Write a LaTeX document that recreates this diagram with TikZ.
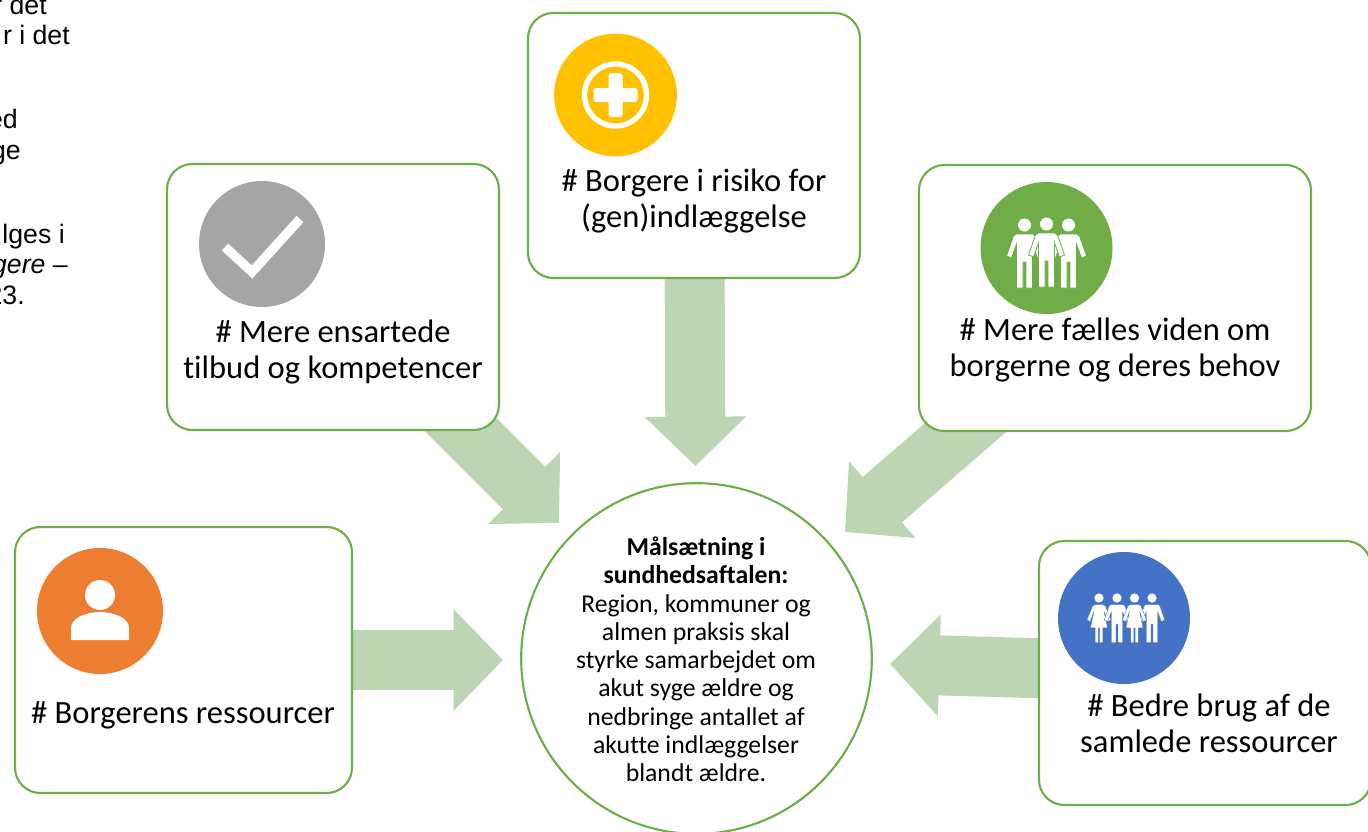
\documentclass[tikz,border=0pt]{standalone}
\usepackage{fontspec}
\setmainfont[Ligatures=NoCommon]{Carlito}
\newfontfamily\arialfont{Liberation Sans}
\usetikzlibrary{arrows.meta,backgrounds}
\definecolor{boxgreen}{HTML}{70AD47}
\definecolor{arrowgreen}{HTML}{BCD5B3}
\definecolor{iconorange}{HTML}{ED7D31}
\definecolor{icongray}{HTML}{A5A5A5}
\definecolor{iconyellow}{HTML}{FFC000}
\definecolor{iconblue}{HTML}{4472C4}
\tikzset{
  themebox/.style={draw=boxgreen, line width=1.6pt, fill=white, rounded corners=19pt},
  themetext/.style={font=\fontsize{24.4}{27}\selectfont, align=center, inner sep=0pt},
  icondisc/.style={circle, minimum size=#1, inner sep=0pt},
  bigarrow/.style={draw=arrowgreen, line width=45pt, -{Triangle[length=37pt, width=74pt]}},
  cuttext/.style={anchor=base east, inner sep=0pt, font=\arialfont\fontsize{20}{24}\selectfont, text=black},
  manfig/.pic={
    \fill (0,0) circle (6.5);
    \filldraw (-8,9) -- (8,9) -- (11,11) -- (18,31) -- (13,33) -- (8,19) -- (8,63) -- (1.5,63) -- (1.5,37)
      -- (-1.5,37) -- (-1.5,63) -- (-8,63) -- (-8,19) -- (-13,33) -- (-18,31) -- (-11,11) -- cycle;
  },
  womanfig/.pic={
    \fill (0,0) circle (6.5);
    \filldraw (-5,9) -- (5,9) -- (9,11) -- (17,31) -- (12.5,33) -- (7,19) -- (12,42) -- (5.5,42) -- (5.5,63) -- (1,63)
      -- (1,42) -- (-1,42) -- (-1,63) -- (-5.5,63) -- (-5.5,42) -- (-12,42) -- (-7,19) -- (-12.5,33) -- (-17,31) -- (-9,11) -- cycle;
  },
  personicon/.pic={
    \fill[white] (0,-16) circle (15);
    \fill[white] (-29,29) -- (-29,17) .. controls (-29,6) and (-12,1) .. (0,1) .. controls (12,1) and (29,6) .. (29,17) -- (29,29) -- cycle;
  },
  checkicon/.pic={
    \draw[white, line width=7pt] (-37,3) -- (-10,28) -- (38,-25);
  },
  crossicon/.pic={
    \draw[white, line width=4pt] (0,0) circle (31);
    \fill[white, rounded corners=2pt] (-7,-22) rectangle (7,22);
    \fill[white, rounded corners=2pt] (-22,-7) rectangle (22,7);
  },
}

\begin{document}
\begin{tikzpicture}[x=0.75pt, y=-0.75pt]
\useasboundingbox (0,0) rectangle (1368,832);
\clip (0,0) rectangle (1368,832);

% cut off text at the left edge
\node[cuttext] (cuta) at (47,14) {r det};
\node[cuttext] (cutb) at (70,44) {r i det};
\node[cuttext] (cutc) at (18,128) {ed};
\node[cuttext] (cutd) at (21,159) {ge};
\node[cuttext] (cute) at (65,243) {lges i};
\node[cuttext] (cutf) at (68,273) {\itshape gere \upshape –};
\node[cuttext] (cutg) at (25,304) {23.};

% boxes
\node[themebox, minimum width=252.75pt, minimum height=199.5pt] (borger) at (183.5,660) {};
\node[themebox, minimum width=249pt, minimum height=199.5pt] (ensartet) at (333,297) {};
\node[themebox, minimum width=249pt, minimum height=198.75pt] (risiko) at (694,145.5) {};
\node[themebox, minimum width=294pt, minimum height=199.5pt] (viden) at (1115,298) {};
\node[themebox, minimum width=249pt, minimum height=198pt] (samlet) at (1205,673) {};
\node[draw=boxgreen, line width=1.6pt, fill=white, circle, minimum size=263pt, inner sep=0pt] (maal) at (696.5,658.5) {};

% arrows go behind the boxes
\coordinate (tipborger) at (503,660);
\coordinate (tipensartet) at (559,523);
\coordinate (tiprisiko) at (695.5,466);
\coordinate (tipviden) at (845,532);
\coordinate (tipsamlet) at (890,664);
\begin{scope}[on background layer]
  \draw[bigarrow] (borger.center) -- (tipborger);
  \draw[bigarrow] (ensartet.center) -- (tipensartet);
  \draw[bigarrow] (risiko.center) -- (tiprisiko);
  \draw[bigarrow] (viden.center) -- (tipviden);
  \draw[bigarrow] (samlet.center) -- (tipsamlet);
\end{scope}

% icons
\node[icondisc=94.5pt, fill=iconorange] (discorange) at (100,611) {};
\node[icondisc=94.5pt, fill=icongray] (discgray) at (262,244) {};
\node[icondisc=92pt, fill=iconyellow] (discyellow) at (615.5,95) {};
\node[icondisc=99pt, fill=boxgreen] (discgreen) at (1046.5,248) {};
\node[icondisc=99pt, fill=iconblue] (discblue) at (1124,618) {};
\pic at (discorange) {personicon};
\pic at (discgray) {checkicon};
\pic at (discyellow) {crossicon};
\begin{scope}[shift={(discgreen)}, fill=white, draw=boxgreen, line width=0.6pt]
  \pic at (-22,-23) {manfig};
  \pic at (22,-23) {manfig};
  \pic at (0,-24) {manfig};
\end{scope}
\begin{scope}[shift={(discblue)}, fill=white, draw=iconblue, line width=0.25pt]
  \pic[scale=0.71] at (-25,-20) {womanfig};
  \pic[scale=0.71] at (28,-20) {manfig};
  \pic[scale=0.71] at (-7,-20) {manfig};
  \pic[scale=0.71] at (10.5,-20) {womanfig};
\end{scope}

% texts
\node[themetext] (tborger) at (183,715) {\# Borgerens ressourcer};
\node[themetext] (tensartet) at (333,352) {\# Mere ensartede\\tilbud og kompetencer};
\node[themetext] (trisiko) at (694,201) {\# Borgere i risiko for\\(gen)indlæggelse};
\node[themetext] (tviden) at (1115,350) {\# Mere fælles viden om\\borgerne og deres behov};
\node[themetext] (tsamlet) at (1209,723) {\# Bedre brug af de\\samlede ressourcer};
\node[align=center, inner sep=0pt, font=\fontsize{19.3}{21.2}\selectfont] (tmaal) at (696,659.5)
  {\textbf{Målsætning i}\\\textbf{sundhedsaftalen:}\\Region, kommuner og\\almen praksis skal\\styrke samarbejdet om\\akut syge ældre og\\nedbringe antallet af\\akutte indlæggelser\\blandt ældre.};
\end{tikzpicture}
\end{document}
